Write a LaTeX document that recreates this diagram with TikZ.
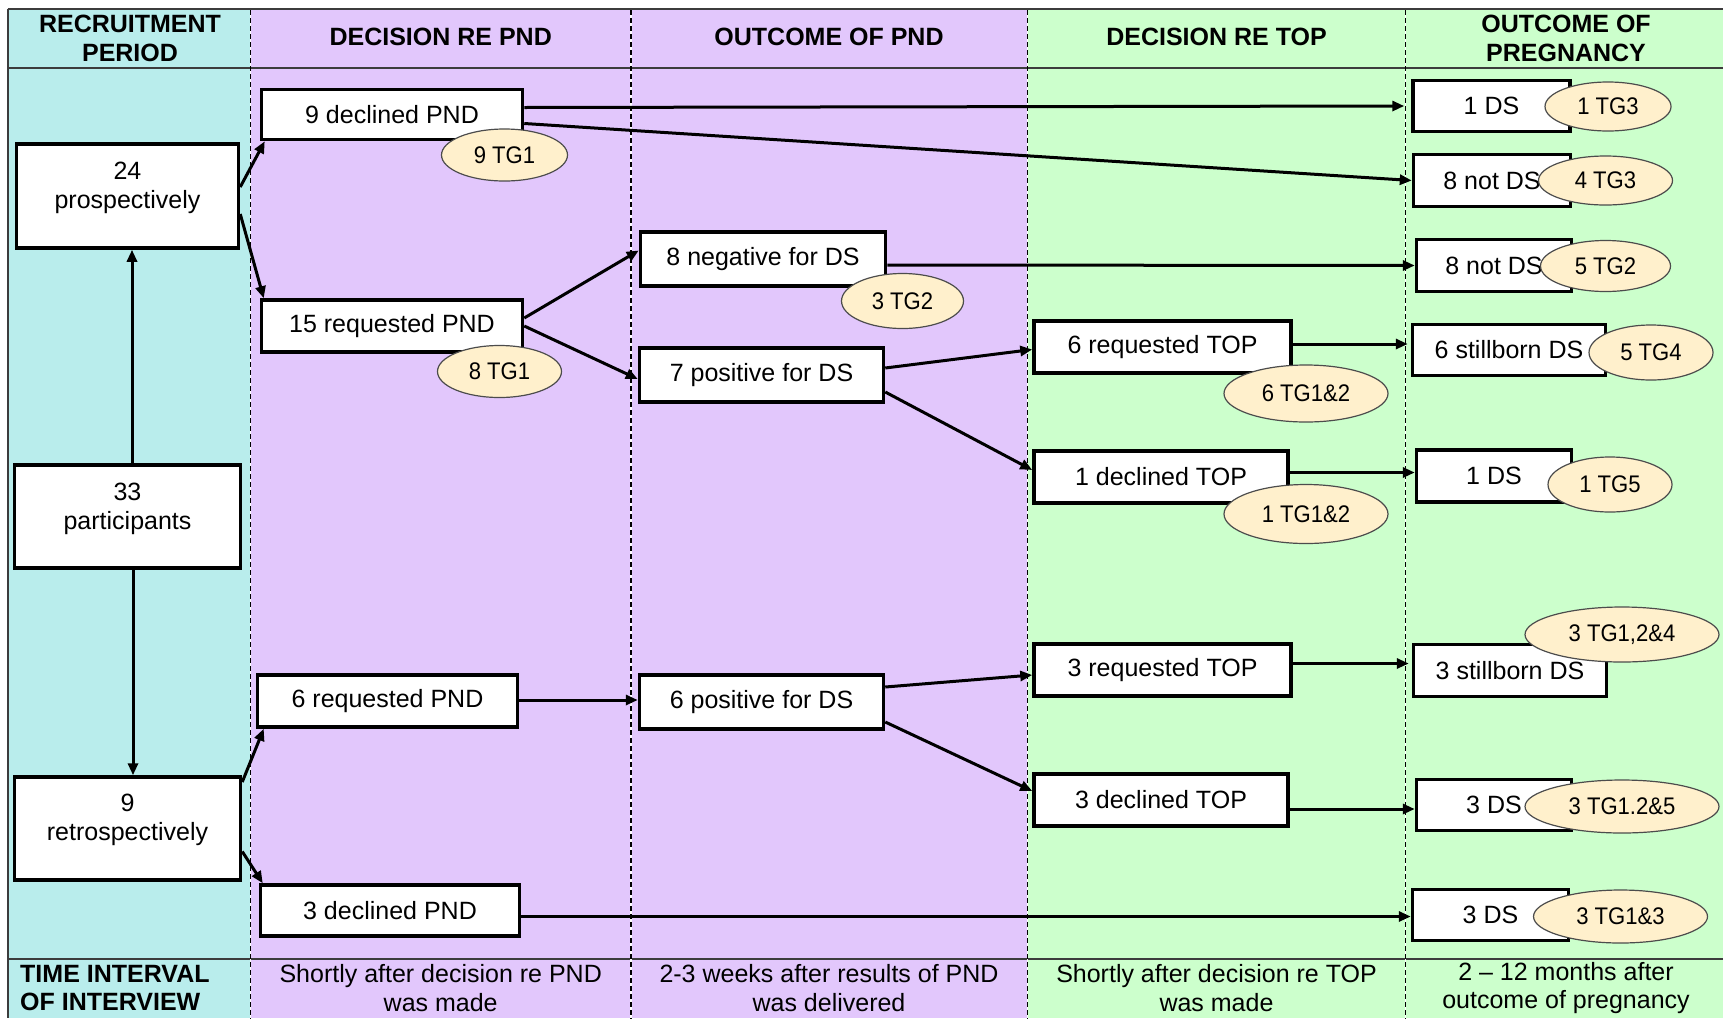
\documentclass[tikz,border=0pt]{standalone}
\usepackage{fontspec}
\setmainfont{Liberation Sans}
\newfontfamily\ellfont[FakeStretch=0.92]{Liberation Sans}
\usetikzlibrary{shapes.geometric,arrows.meta,calc}
\definecolor{colcyan}{RGB}{185,237,236}
\definecolor{collav}{RGB}{226,199,252}
\definecolor{colgreen}{RGB}{204,255,204}
\definecolor{ellfill}{RGB}{255,240,204}
\definecolor{framecol}{RGB}{60,60,60}
\tikzset{
  boxfont/.style={font=\fontsize{25}{29}\selectfont},
  stepbox/.style={draw, line width=3.5pt, fill=white, inner sep=0pt, boxfont},
  bigbox/.style={stepbox, minimum width=#1, minimum height=103pt},
  txt/.style={inner sep=0pt, align=center, boxfont},
  head/.style={inner sep=0pt, align=center, font=\bfseries\fontsize{25}{29}\selectfont},
  foot/.style={inner sep=0pt, align=center, font=\fontsize{25}{28.5}\selectfont},
  tg/.style={ellipse, draw=black!70, line width=1.2pt, fill=ellfill, inner sep=0pt, font=\ellfont\fontsize{24}{28}\selectfont},
  arr/.style={line width=3pt, -{Triangle[length=12pt,width=10pt]}},
  frameline/.style={draw=framecol, line width=2pt},
  divline/.style={line width=1.4pt, dash pattern=on 5pt off 3pt}
}
\begin{document}
\begin{tikzpicture}[x=1pt,y=-1pt]
\useasboundingbox (0,0) rectangle (1723,1018);
% column backgrounds
\fill[colcyan] (7.7,8.8) rectangle (250.5,1018);
\fill[collav] (250.5,8.8) rectangle (1027.5,1018);
\fill[colgreen] (1027.5,8.8) rectangle (1723,1018);
% frame lines
\draw[frameline] (7.7,8.8) -- (1723,8.8);
\draw[frameline] (7.7,8.8) -- (7.7,1018);
\draw[frameline] (7.7,68) -- (1723,68);
\draw[frameline] (7.7,959) -- (1723,959);
% dividers
\foreach \xx in {250.5,631,1027.5,1405.5}{
  \draw[white, line width=1.4pt] (\xx,9.8) -- (\xx,1018);
  \draw[divline] (\xx,9.8) -- (\xx,1018);
}
% headers
\node[head] (h1) at (130,38.5) {RECRUITMENT\\PERIOD};
\node[head] (h2) at (440.7,37) {DECISION RE PND};
\node[head] (h3) at (829,37) {OUTCOME OF PND};
\node[head] (h4) at (1216.5,37) {DECISION RE TOP};
\node[head] (h5) at (1566,38.5) {OUTCOME OF\\PREGNANCY};
% footers
\node[foot, font=\bfseries\fontsize{25}{28.5}\selectfont, align=left, anchor=west] (f1) at (20,988) {TIME INTERVAL\\OF INTERVIEW};
\node[foot] (f2) at (440.7,988) {Shortly after decision re PND\\was made};
\node[foot] (f3) at (829,988) {2-3 weeks after results of PND\\was delivered};
\node[foot] (f4) at (1216.5,988) {Shortly after decision re TOP\\was made};
\node[foot] (f5) at (1566,988) {2 -- 12 months after\\outcome of pregnancy};
% recruitment boxes
\node[bigbox=222pt, minimum height=104pt] (n24) at (127.5,196) {};
\node[txt] (n24t) at (127.5,187.5) {24\\prospectively};
\node[bigbox=226pt] (n33) at (127.5,516.5) {};
\node[txt] (n33t) at (127.5,508.5) {33\\participants};
\node[bigbox=226pt] (n9r) at (127.5,828.5) {};
\node[txt] (n9rt) at (127.5,819.5) {9\\retrospectively};
% decision re PND
\node[stepbox, minimum width=261pt, minimum height=50pt] (d9) at (392,114.5) {9 declined PND};
\node[stepbox, minimum width=261pt, minimum height=52pt] (r15) at (392,326) {15 requested PND};
\node[stepbox, minimum width=260pt, minimum height=52pt] (r6) at (387.5,701) {6 requested PND};
\node[stepbox, minimum width=259pt, minimum height=51pt] (d3) at (390,910.5) {3 declined PND};
% outcome of PND
\node[stepbox, minimum width=245pt, minimum height=54pt] (neg8) at (763,259) {8 negative for DS};
\node[stepbox, minimum width=244pt, minimum height=54pt] (pos7) at (761.5,375) {7 positive for DS};
\node[stepbox, minimum width=244pt, minimum height=54pt] (pos6) at (761.5,702) {6 positive for DS};
% decision re TOP
\node[stepbox, minimum width=257pt, minimum height=52pt] (reqT6) at (1162.5,347) {6 requested TOP};
\node[stepbox, minimum width=254pt, minimum height=52pt] (decT1) at (1161,477) {1 declined TOP};
\node[stepbox, minimum width=257pt, minimum height=52pt] (reqT3) at (1162.5,670) {3 requested TOP};
\node[stepbox, minimum width=254pt, minimum height=52pt] (decT3) at (1161,800) {3 declined TOP};
% outcome of pregnancy
\node[stepbox, minimum width=157pt, minimum height=51pt] (o1) at (1491.5,106) {1 DS};
\node[stepbox, minimum width=157pt, minimum height=52pt] (o2) at (1492,180.5) {8 not DS};
\node[stepbox, minimum width=155pt, minimum height=52pt] (o3) at (1494,265.5) {8 not DS};
\node[stepbox, minimum width=193pt, minimum height=51pt] (o4) at (1509,350) {6 stillborn DS};
\node[stepbox, minimum width=155pt, minimum height=52pt] (o5) at (1494,476) {1 DS};
\node[stepbox, minimum width=193pt, minimum height=52pt] (o6) at (1510,670.5) {3 stillborn DS};
\node[stepbox, minimum width=155pt, minimum height=51pt] (o7) at (1494,805) {3 DS};
\node[stepbox, minimum width=156pt, minimum height=51pt] (o8) at (1490.5,915) {3 DS};
% connectors
\draw[arr] ($(n33.north)+(4.5,0)$) -- ($(n24.south)+(4.5,0)$);
\draw[arr] ($(n33.south)+(5.5,0)$) -- ($(n9r.north)+(5.5,0)$);
\draw[arr] ($(n24.east)+(0,-9)$) -- ($(d9.south west)+(5,0)$);
\draw[arr] ($(n24.east)+(0,18)$) -- ($(r15.north west)+(4,0)$);
\draw[arr] ($(n9r.east)+(0,-46.5)$) -- ($(r6.south west)+(8,0)$);
\draw[arr] ($(n9r.east)+(0,23)$) -- ($(d3.north west)+(4,0)$);
\draw[arr] ($(d9.east)+(0,-7)$) -- ($(o1.west)+(-7,0)$);
\draw[arr] ($(d9.east)+(0,9)$) -- (o2.west);
\draw[arr] ($(r15.east)+(0,-8)$) -- ($(neg8.west)+(0,-8.5)$);
\draw[arr] (r15.east) -- ($(pos7.west)+(0,4)$);
\draw[arr] ($(neg8.east)+(0,6)$) -- (o3.west);
\draw[arr] ($(pos7.east)+(0,-7)$) -- ($(reqT6.west)+(0,2.5)$);
\draw[arr] ($(pos7.east)+(0,17)$) -- ($(decT1.west)+(0,-7)$);
\draw[arr] ($(reqT6.east)+(0,-3)$) -- ($(o4.west)+(-3,-6)$);
\draw[arr] ($(decT1.east)+(0,-4.5)$) -- ($(o5.west)+(0,-3.5)$);
\draw[arr] ($(r6.east)+(0,-1)$) -- ($(pos6.west)+(0,-2)$);
\draw[arr] ($(pos6.east)+(0,-15)$) -- ($(reqT3.west)+(0,5)$);
\draw[arr] ($(pos6.east)+(0,20)$) -- ($(decT3.west)+(0,-9)$);
\draw[arr] ($(reqT3.east)+(0,-6.5)$) -- ($(o6.west)+(-3,-7)$);
\draw[arr] ($(decT3.east)+(0,9)$) -- ($(o7.west)+(0,4)$);
\draw[arr] ($(d3.east)+(0,6)$) -- ($(o8.west)+(0,1.5)$);
% ellipses
\node[tg, minimum width=126pt, minimum height=52pt] (e9TG1) at (504.5,155) {9 TG1};
\node[tg, minimum width=124pt, minimum height=52pt] (e8TG1) at (499.5,371.5) {8 TG1};
\node[tg, minimum width=122pt, minimum height=55pt] (e3TG2) at (902.5,301) {3 TG2};
\node[tg, minimum width=164pt, minimum height=57pt] (e6TG12) at (1306,393.5) {6 TG1\&2};
\node[tg, minimum width=164pt, minimum height=59pt] (e1TG12) at (1306,514) {1 TG1\&2};
\node[tg, minimum width=126pt, minimum height=49pt] (e1TG3) at (1608,106.5) {1 TG3};
\node[tg, minimum width=134pt, minimum height=49pt] (e4TG3) at (1605.5,180.5) {4 TG3};
\node[tg, minimum width=130pt, minimum height=51pt] (e5TG2) at (1605.5,266) {5 TG2};
\node[tg, minimum width=124pt, minimum height=55pt] (e5TG4) at (1651,352.5) {5 TG4};
\node[tg, minimum width=124pt, minimum height=55pt] (e1TG5) at (1610,484.5) {1 TG5};
\node[tg, minimum width=194pt, minimum height=55pt] (e3TG124) at (1622,634.5) {3 TG1,2\&4};
\node[tg, minimum width=194pt, minimum height=53pt] (e3TG125) at (1622,806.5) {3 TG1.2\&5};
\node[tg, minimum width=174pt, minimum height=53pt] (e3TG13) at (1620.5,916.5) {3 TG1\&3};
\end{tikzpicture}
\end{document}
